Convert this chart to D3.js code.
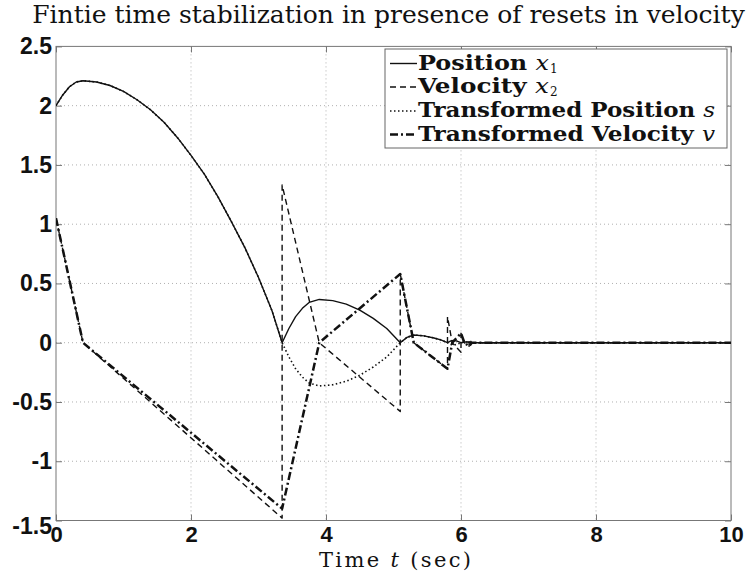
<!DOCTYPE html>
<html><head><meta charset="utf-8">
<script src="https://cdn.jsdelivr.net/npm/d3@7"></script>
<style>
html,body{margin:0;padding:0;background:#fff;}
svg{display:block;}
</style></head>
<body>
<svg id="c" width="756" height="572"></svg>
<script>
// ---- data ----
const xTicks = [0, 2, 4, 6, 8, 10];
const yTicks = [-1.5, -1, -0.5, 0, 0.5, 1, 1.5, 2, 2.5];
const yTickLabels = ["-1.5", "-1", "-0.5", "0", "0.5", "1", "1.5", "2", "2.5"];

// Position x1
const tX1 = [0, 0.1, 0.2, 0.3, 0.4, 0.6, 0.8, 1.0, 1.2, 1.4, 1.6, 1.8, 2.0, 2.2, 2.4, 2.6, 2.8, 3.0, 3.2, 3.35,
             3.45, 3.55, 3.65, 3.75, 3.9, 4.1, 4.3, 4.5, 4.7, 4.9, 5.1,
             5.2, 5.3, 5.45, 5.6, 5.7, 5.8, 5.85, 5.9, 5.95, 6.0, 6.05, 6.1, 6.15, 10];
const x1 = [2.00, 2.09, 2.16, 2.20, 2.21, 2.20, 2.17, 2.12, 2.05, 1.965, 1.86, 1.73, 1.58, 1.42, 1.23, 1.02, 0.80, 0.55, 0.27, 0.0,
            0.12, 0.22, 0.29, 0.34, 0.365, 0.355, 0.325, 0.275, 0.205, 0.12, 0.0,
            0.045, 0.065, 0.058, 0.04, 0.024, 0.0, 0.015, 0.02, 0.012, 0.0, 0.006, 0.006, 0.0, 0.0];

// Velocity x2 (repeated times are resets)
const tX2 = [0, 0.4, 3.35, 3.35, 3.9, 5.1, 5.1, 5.3, 5.8, 5.8, 5.87, 6.0, 6.0, 6.05, 6.12, 6.12, 6.16, 10];
const x2 = [1.05, 0, -1.48, 1.33, 0, -0.58, 0.58, 0, -0.22, 0.22, 0, -0.08, 0.08, 0, -0.03, 0.03, 0, 0];

// Transformed position s
const tS = tX1;
const s = [2.00, 2.09, 2.16, 2.20, 2.21, 2.20, 2.17, 2.12, 2.05, 1.965, 1.86, 1.73, 1.58, 1.42, 1.23, 1.02, 0.80, 0.55, 0.27, 0.0,
           -0.12, -0.22, -0.29, -0.34, -0.365, -0.355, -0.325, -0.275, -0.205, -0.12, 0.0,
           0.045, 0.065, 0.058, 0.04, 0.024, 0.0, -0.015, -0.02, -0.012, 0.0, 0.006, 0.006, 0.0, 0.0];

// Transformed velocity v
const tV = [0, 0.4, 3.35, 3.9, 5.1, 5.3, 5.8, 5.87, 6.0, 6.05, 6.12, 6.16, 10];
const v = [1.05, 0, -1.40, 0, 0.58, 0, -0.22, 0, 0.08, 0, -0.03, 0, 0];

const seriesNames = ["Position ", "Velocity ", "Transformed Position ", "Transformed Velocity "];
const seriesSym = ["x", "x", "s", "v"];
const seriesSub = ["1", "2", "", ""];

// ---- layout ----
const L = 56, R = 731, T = 46.4, B = 520.5;
const svg = d3.select("#c");
const x = d3.scaleLinear().domain([0, 10]).range([L, R]);
const y = d3.scaleLinear().domain([-1.5, 2.5]).range([B, T]);

// grid
const g = svg.append("g");
g.selectAll(".gx").data(xTicks.filter(d => d > 0 && d < 10)).enter().append("line")
  .attr("x1", d => x(d)).attr("x2", d => x(d)).attr("y1", T).attr("y2", B)
  .attr("stroke", "#b0b0b0").attr("stroke-width", 1).attr("stroke-dasharray", "1,3");
g.selectAll(".gy").data(yTicks.filter(d => d > -1.5 && d < 2.5)).enter().append("line")
  .attr("y1", d => y(d)).attr("y2", d => y(d)).attr("x1", L).attr("x2", R)
  .attr("stroke", "#b0b0b0").attr("stroke-width", 1).attr("stroke-dasharray", "1,3");

// axes (ticks inside)
function styleAxis(sel, size) {
  sel.select(".domain").remove();
  sel.selectAll(".tick line").attr("stroke", "#777");
  sel.selectAll("text").attr("font-family", "'Liberation Sans', Arial, sans-serif")
    .attr("font-weight", "bold").attr("font-size", size).attr("fill", "#111");
}
const ax = svg.append("g").attr("transform", `translate(0,${B})`)
  .call(d3.axisBottom(x).tickValues(xTicks).tickSize(-6).tickPadding(6).tickFormat(d3.format("d")));
styleAxis(ax, 22);
const axT = svg.append("g").attr("transform", `translate(0,${T})`)
  .call(d3.axisTop(x).tickValues(xTicks).tickSize(-6).tickFormat(""));
styleAxis(axT, 22);
const ay = svg.append("g").attr("transform", `translate(${L},0)`)
  .call(d3.axisLeft(y).tickValues(yTicks).tickSize(-6).tickPadding(4)
    .tickFormat((d, i) => yTickLabels[i]));
styleAxis(ay, 23);
ay.selectAll(".tick").filter(d => d === -1.5).select("text").attr("dy", "0.55em");
const ayR = svg.append("g").attr("transform", `translate(${R},0)`)
  .call(d3.axisRight(y).tickValues(yTicks).tickSize(-6).tickFormat(""));
styleAxis(ayR, 23);

// frame
svg.append("rect").attr("x", L).attr("y", T).attr("width", R - L).attr("height", B - T)
  .attr("fill", "none").attr("stroke", "#777").attr("stroke-width", 1);

// lines
const styles = [
  { w: 1.4, dash: null },
  { w: 1.4, dash: "6,4" },
  { w: 1.6, dash: "1.5,2.5" },
  { w: 2.5, dash: "8,3,2,3" }
];
const sets = [[tX1, x1], [tX2, x2], [tS, s], [tV, v]];
const line = d3.line().x(d => x(d[0])).y(d => y(d[1]));
svg.append("clipPath").attr("id", "pc").append("rect")
  .attr("x", L).attr("y", T).attr("width", R - L).attr("height", B - T);
sets.forEach((st, i) => {
  const pts = st[0].map((t, k) => [t, st[1][k]]);
  svg.append("path").attr("d", line(pts)).attr("fill", "none")
    .attr("stroke", "#111").attr("stroke-width", styles[i].w)
    .attr("stroke-dasharray", styles[i].dash).attr("stroke-linejoin", "round")
    .attr("clip-path", "url(#pc)");
});

// legend
const lg = svg.append("g");
lg.append("rect").attr("x", 385).attr("y", 49).attr("width", 342).attr("height", 99)
  .attr("fill", "#fff").attr("stroke", "#666").attr("stroke-width", 1);
const rowBase = [69.5, 93, 117, 140.5];
const rowLen = [131, 131, 297, 297];
const fs = 20;
seriesNames.forEach((nm, i) => {
  lg.append("line").attr("x1", 390).attr("x2", 417).attr("y1", rowBase[i] - 6).attr("y2", rowBase[i] - 6)
    .attr("stroke", "#111").attr("stroke-width", styles[i].w).attr("stroke-dasharray", styles[i].dash);
  const t = lg.append("text").attr("x", 418).attr("y", rowBase[i])
    .attr("font-family", "'DejaVu Serif', serif").attr("font-size", fs).attr("fill", "#111")
    .attr("textLength", rowLen[i]).attr("lengthAdjust", "spacingAndGlyphs");
  t.append("tspan").attr("font-weight", "bold").text(nm);
  t.append("tspan").attr("font-style", "italic").text(seriesSym[i]);
  if (seriesSub[i]) {
    lg.append("text").attr("x", 418 + rowLen[i] + 1).attr("y", rowBase[i] + 3)
      .attr("font-family", "'DejaVu Serif', serif").attr("font-size", 12)
      .attr("fill", "#111").text(seriesSub[i]);
  }
});

// title
const title = svg.append("text").attr("x", 388.5).attr("y", 23).attr("text-anchor", "middle")
  .attr("font-family", "'DejaVu Serif', serif").attr("font-size", 20).attr("fill", "#111")
  .text("Fintie time stabilization in presence of resets in velocity");
const tw = title.node().getComputedTextLength();
title.attr("font-size", 20 * 713 / tw);

// x label
const xl = svg.append("text").attr("x", 395).attr("y", 567).attr("text-anchor", "middle")
  .attr("font-family", "'DejaVu Serif', serif").attr("font-size", 21).attr("fill", "#111")
  .attr("textLength", 152).attr("lengthAdjust", "spacing");
xl.append("tspan").text("Time ");
xl.append("tspan").attr("font-style", "italic").text("t");
xl.append("tspan").text(" (sec)");
</script>
</body></html>
